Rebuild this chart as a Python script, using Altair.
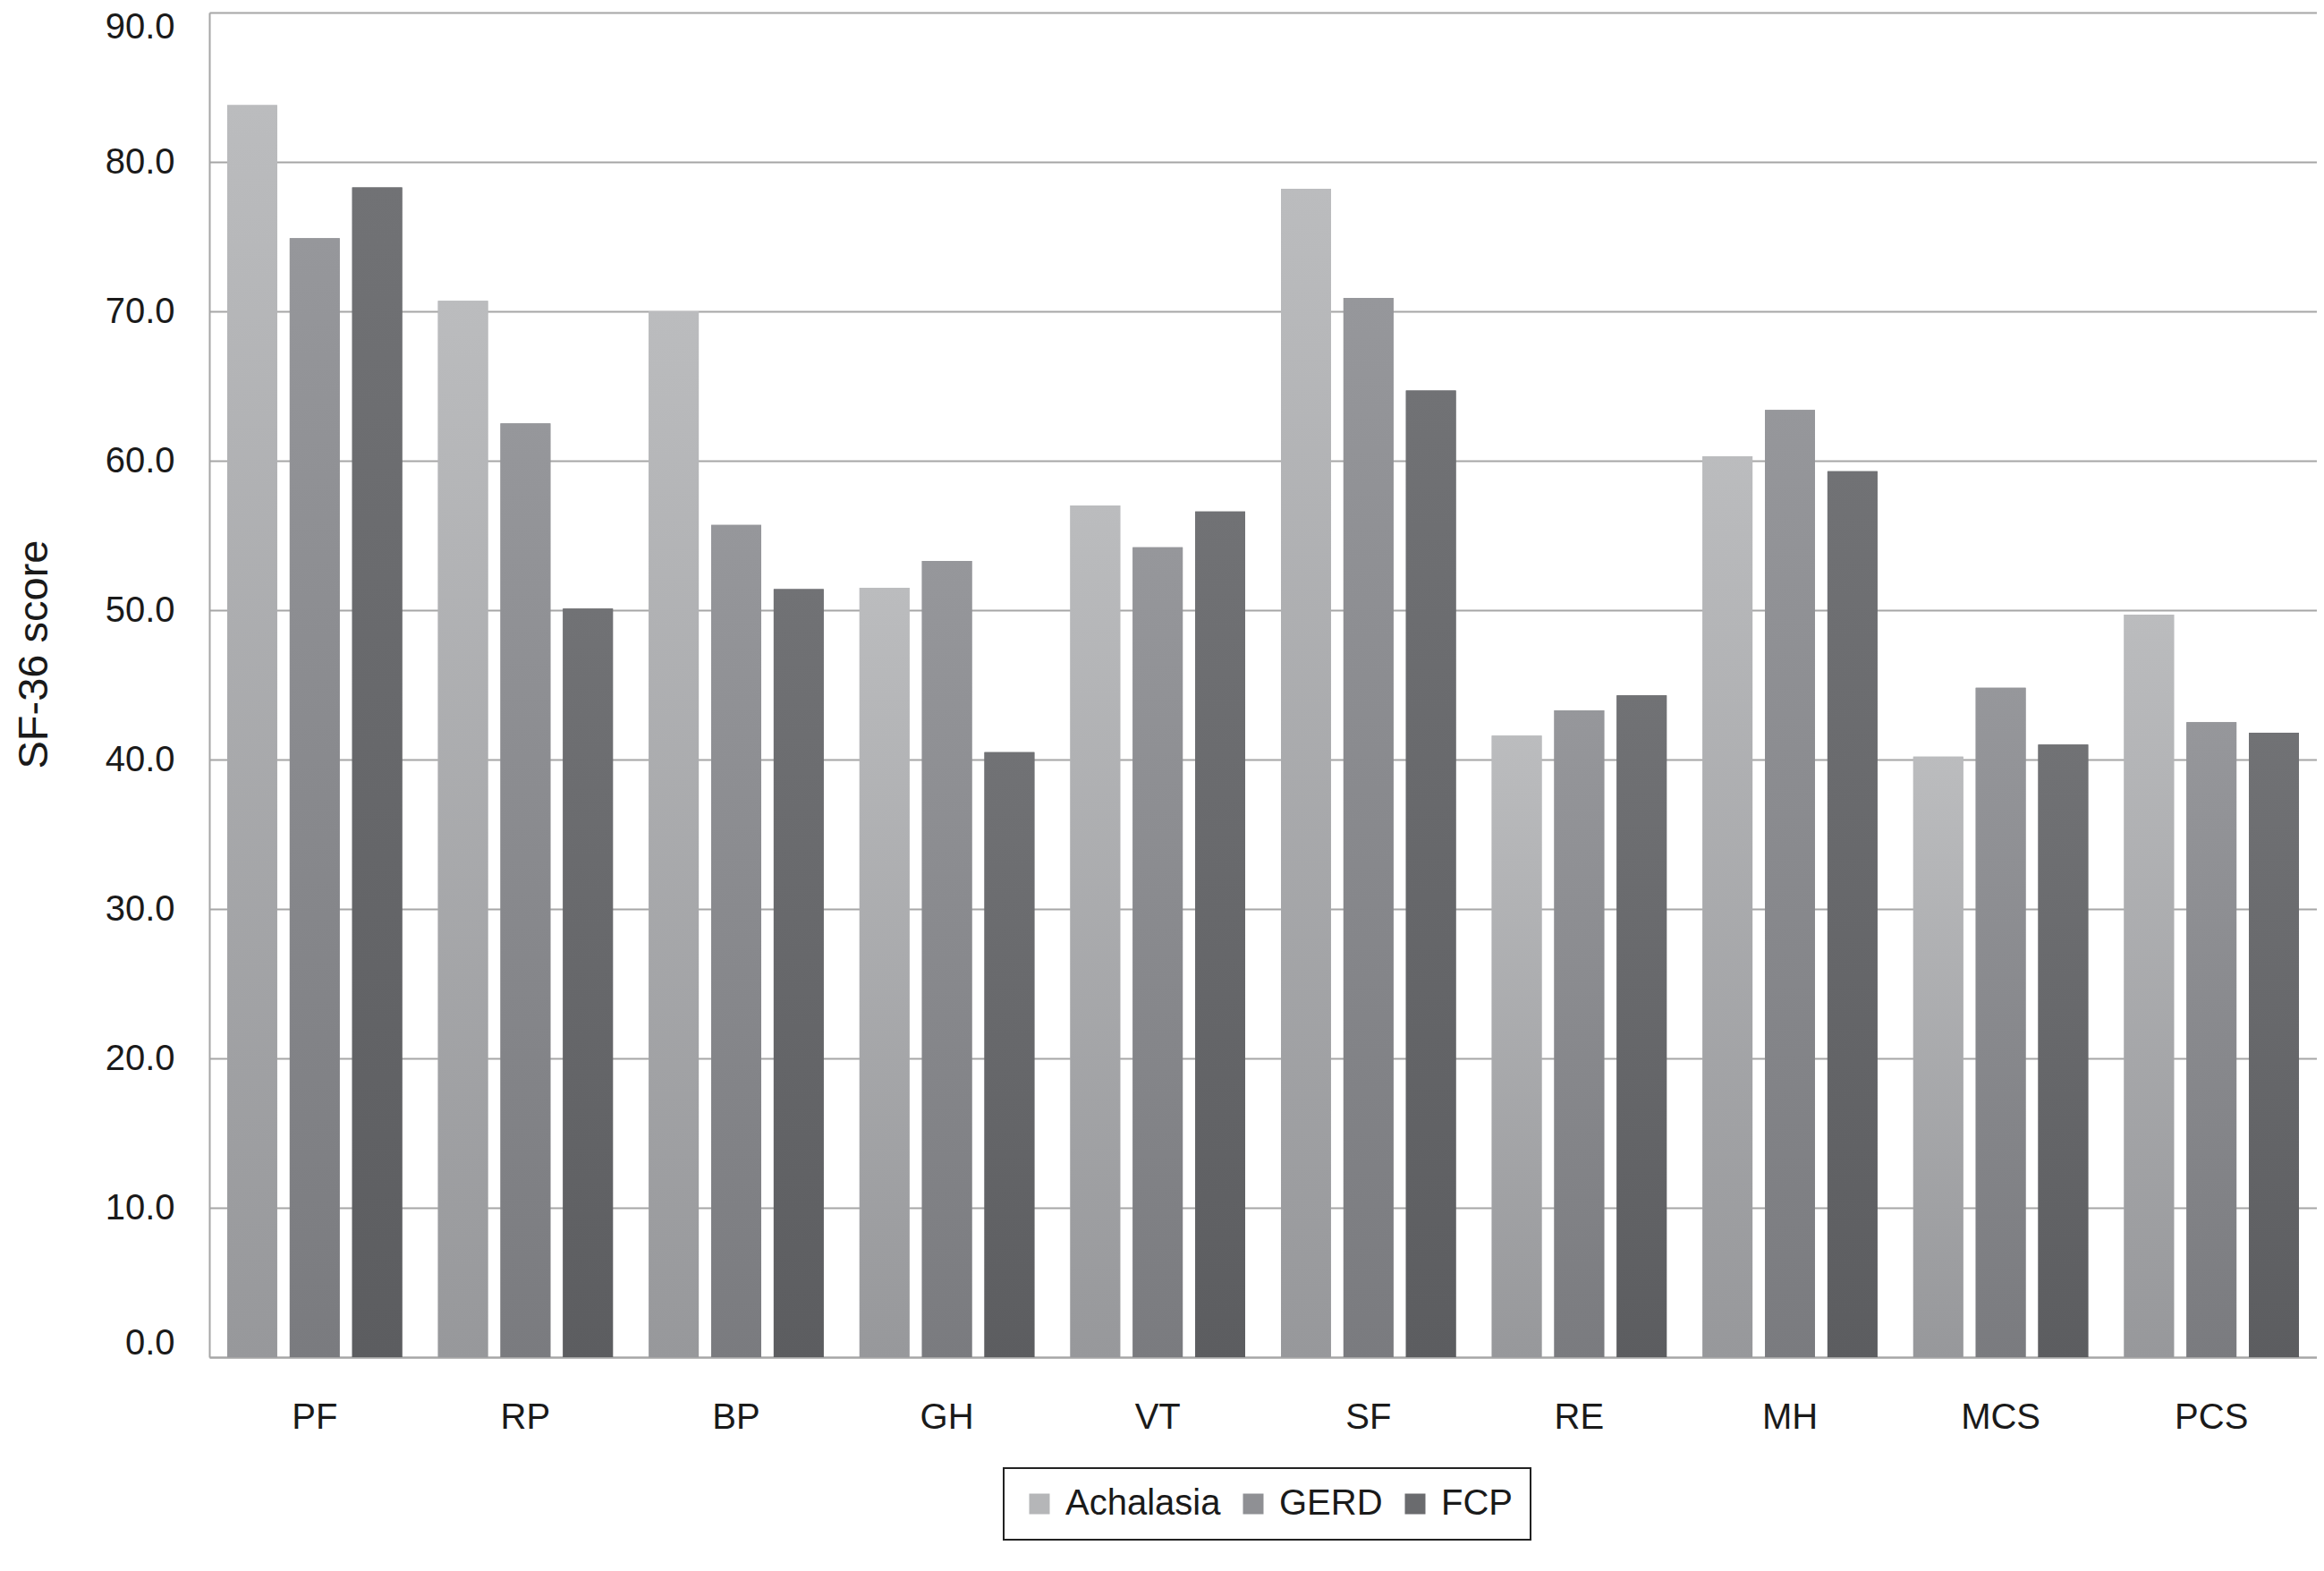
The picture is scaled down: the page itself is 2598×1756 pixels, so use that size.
import altair as alt
import pandas as pd

categories = ["PF", "RP", "BP", "GH", "VT", "SF", "RE", "MH", "MCS", "PCS"]
groups = ["Achalasia", "GERD", "FCP"]
achalasia = [83.8, 70.7, 70.0, 51.5, 57.0, 78.2, 41.6, 60.3, 40.2, 49.7]
gerd = [74.9, 62.5, 55.7, 53.3, 54.2, 70.9, 43.3, 63.4, 44.8, 42.5]
fcp = [78.3, 50.1, 51.4, 40.5, 56.6, 64.7, 44.3, 59.3, 41.0, 41.8]
y_ticks = [0, 10, 20, 30, 40, 50, 60, 70, 80, 90]

legend_colors = ["#b5b6b8", "#8f9094", "#6a6b6e"]
grad_top = ["#bbbcbe", "#96979b", "#717275"]
grad_bottom = ["#97989b", "#7a7b7f", "#5c5d60"]

rows = []
for g, vals in zip(groups, [achalasia, gerd, fcp]):
    for c, v in zip(categories, vals):
        rows.append({"cat": c, "group": g, "value": v})
df = pd.DataFrame(rows)

GRID = "#a6a6a6"
TEXT = "#1a1a1a"

x_enc = alt.X(
    "cat:N",
    sort=categories,
    scale=alt.Scale(paddingInner=0.17, paddingOuter=0.085),
    axis=alt.Axis(
        title=None, labelAngle=0, labelFontSize=40, labelPadding=47,
        ticks=False, domainColor=GRID, domainWidth=2, grid=False,
        labelColor=TEXT,
    ),
)
xoff_enc = alt.XOffset("group:N", sort=groups, scale=alt.Scale(paddingInner=0.2))
y_enc = alt.Y(
    "value:Q",
    scale=alt.Scale(domain=[0, 90], nice=False),
    axis=alt.Axis(
        values=y_ticks, format=".1f", title="SF-36 score",
        titleFontSize=47, titleFontWeight="normal", titleAngle=-90,
        titleX=-196, titleY=717, titleAlign="center", titleBaseline="middle",
        labelFontSize=40, labelPadding=39, ticks=False, grid=True,
        labelFlush=True, labelFlushOffset=4,
        gridColor=GRID, gridWidth=2, domainColor=GRID, domainWidth=2,
        labelColor=TEXT, titleColor=TEXT,
    ),
)

base_layer = alt.Chart(df).mark_bar().encode(
    x=x_enc,
    xOffset=xoff_enc,
    y=y_enc,
    color=alt.Color(
        "group:N",
        sort=groups,
        scale=alt.Scale(domain=groups, range=legend_colors),
        legend=alt.Legend(
            title=None, orient="none", direction="horizontal",
            legendX=888, legendY=1627, columns=3,
            symbolType="square", symbolSize=529, symbolStrokeWidth=0,
            labelFontSize=40, labelOffset=9, columnPadding=16,
            labelLimit=0,
            padding=20, strokeColor="#222222", labelColor=TEXT,
        ),
    ),
)

layers = [base_layer]
for g, top, bot in zip(groups, grad_top, grad_bottom):
    layers.append(
        alt.Chart(df)
        .transform_filter(alt.datum.group == g)
        .mark_bar(
            color=alt.Gradient(
                gradient="linear",
                stops=[
                    alt.GradientStop(color=top, offset=0),
                    alt.GradientStop(color=bot, offset=1),
                ],
                x1=0, x2=0, y1=0, y2=1,
            )
        )
        .encode(x=x_enc, xOffset=xoff_enc, y=y_enc)
    )

chart = (
    alt.layer(*layers)
    .properties(
        width=2356,
        height=1503,
        autosize=alt.AutoSizeParams(type="none"),
        padding={"left": 226, "top": 6, "right": 0, "bottom": 231},
    )
    .configure(font="Liberation Sans")
    .configure_view(stroke=None)
    .configure_legend(strokeWidth=2)
)

chart.save("out.html", embed_options={"renderer": "svg", "actions": False})
